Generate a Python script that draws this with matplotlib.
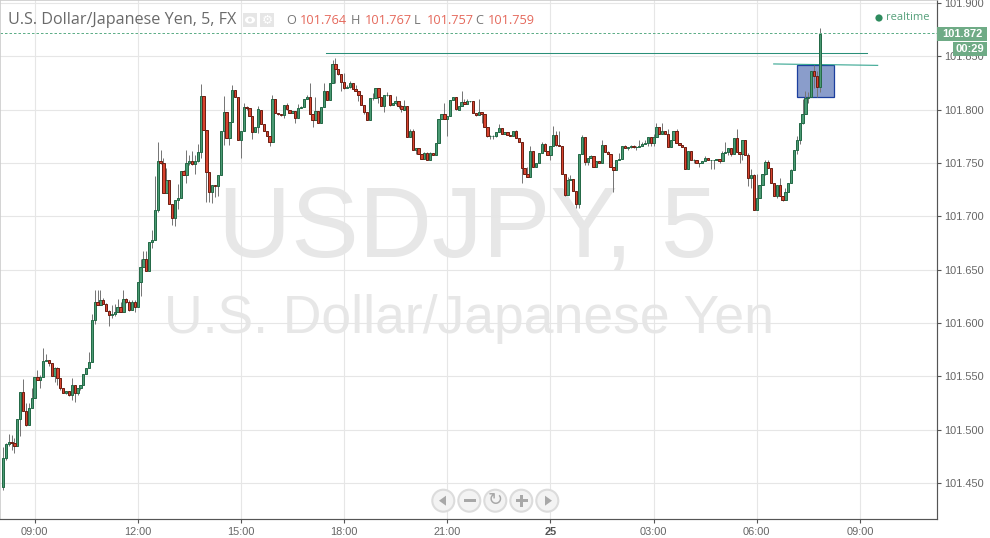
import numpy as np
import matplotlib
matplotlib.use('Agg')
import matplotlib.pyplot as plt
from matplotlib.patches import Rectangle, Circle, Polygon, Ellipse

# USDJPY 5 minute candles
opens = [
101.446,101.473,101.486,101.488,101.487,101.485,101.510,101.535,101.517,101.504,
101.520,101.530,101.549,101.546,101.549,101.564,101.565,101.562,101.550,101.558,
101.548,101.539,101.534,101.536,101.532,101.542,101.534,101.539,101.542,101.552,
101.558,101.563,101.603,101.620,101.617,101.621,101.618,101.611,101.607,101.608,
101.610,101.615,101.610,101.622,101.620,101.612,101.620,101.615,101.638,101.652,
101.660,101.649,101.676,101.678,101.706,101.752,101.750,101.722,101.734,101.711,
101.698,101.715,101.717,101.742,101.739,101.750,101.752,101.749,101.752,101.760,
101.813,101.781,101.741,101.723,101.729,101.728,101.739,101.780,101.798,101.773,
101.788,101.818,101.812,101.771,101.780,101.802,101.801,101.794,101.779,101.784,
101.800,101.786,101.780,101.775,101.770,101.810,101.797,101.796,101.795,101.804,
101.800,101.797,101.799,101.792,101.801,101.802,101.810,101.812,101.796,101.790,
101.799,101.787,101.802,101.817,101.809,101.825,101.843,101.838,101.833,101.826,
101.820,101.821,101.825,101.819,101.817,101.814,101.804,101.798,101.790,101.811,
101.811,101.820,101.812,101.803,101.814,101.814,101.804,101.806,101.808,101.803,
101.800,101.803,101.774,101.780,101.762,101.764,101.758,101.754,101.759,101.753,
101.759,101.757,101.769,101.791,101.796,101.791,101.794,101.809,101.812,101.800,
101.803,101.807,101.805,101.808,101.808,101.797,101.795,101.798,101.796,101.784,
101.775,101.775,101.775,101.779,101.783,101.777,101.779,101.776,101.775,101.780,
101.773,101.770,101.745,101.740,101.737,101.761,101.746,101.750,101.759,101.768,
101.761,101.757,101.766,101.776,101.767,101.766,101.740,101.720,101.734,101.735,
101.724,101.711,101.758,101.774,101.751,101.755,101.756,101.746,101.752,101.750,
101.767,101.760,101.758,101.746,101.743,101.753,101.754,101.766,101.764,101.765,
101.766,101.765,101.765,101.766,101.768,101.769,101.774,101.769,101.774,101.784,
101.777,101.780,101.777,101.765,101.771,101.780,101.769,101.767,101.765,101.744,
101.761,101.753,101.753,101.750,101.750,101.752,101.755,101.753,101.753,101.753,
101.754,101.752,101.759,101.760,101.764,101.758,101.773,101.760,101.758,101.771,
101.757,101.736,101.739,101.706,101.717,101.729,101.740,101.751,101.745,101.731,
101.719,101.729,101.719,101.715,101.723,101.731,101.743,101.762,101.771,101.787,
101.796,101.811,101.812,101.836,101.831,101.821]
closes = [
101.473,101.486,101.488,101.487,101.485,101.510,101.535,101.517,101.504,101.520,
101.530,101.549,101.546,101.549,101.564,101.565,101.562,101.550,101.558,101.548,
101.539,101.534,101.536,101.532,101.542,101.534,101.539,101.542,101.552,101.558,
101.563,101.603,101.620,101.617,101.621,101.618,101.611,101.607,101.608,101.610,
101.615,101.610,101.622,101.620,101.612,101.620,101.615,101.638,101.652,101.660,
101.649,101.676,101.678,101.706,101.752,101.750,101.722,101.734,101.711,101.698,
101.715,101.717,101.742,101.739,101.750,101.752,101.749,101.752,101.760,101.813,
101.781,101.741,101.723,101.729,101.728,101.739,101.780,101.798,101.773,101.788,
101.818,101.812,101.771,101.780,101.802,101.801,101.794,101.779,101.784,101.800,
101.786,101.780,101.775,101.770,101.810,101.797,101.796,101.795,101.804,101.800,
101.797,101.799,101.792,101.801,101.802,101.810,101.812,101.796,101.790,101.799,
101.787,101.802,101.817,101.809,101.825,101.843,101.838,101.833,101.826,101.820,
101.821,101.825,101.819,101.817,101.814,101.804,101.798,101.790,101.811,101.811,
101.820,101.812,101.803,101.814,101.814,101.804,101.806,101.808,101.803,101.800,
101.803,101.774,101.780,101.762,101.764,101.758,101.754,101.759,101.753,101.759,
101.757,101.769,101.791,101.796,101.791,101.794,101.809,101.812,101.800,101.803,
101.807,101.805,101.808,101.808,101.797,101.795,101.798,101.796,101.784,101.775,
101.775,101.775,101.779,101.783,101.777,101.779,101.776,101.775,101.780,101.773,
101.770,101.745,101.740,101.737,101.761,101.746,101.750,101.759,101.768,101.761,
101.757,101.766,101.776,101.767,101.766,101.740,101.720,101.734,101.735,101.724,
101.711,101.758,101.774,101.751,101.755,101.756,101.746,101.752,101.750,101.767,
101.760,101.758,101.746,101.743,101.753,101.754,101.766,101.764,101.765,101.766,
101.765,101.765,101.766,101.768,101.769,101.774,101.769,101.774,101.784,101.777,
101.780,101.777,101.765,101.771,101.780,101.769,101.767,101.765,101.744,101.761,
101.753,101.753,101.750,101.750,101.752,101.755,101.753,101.753,101.753,101.754,
101.752,101.759,101.760,101.764,101.758,101.773,101.760,101.758,101.771,101.757,
101.736,101.739,101.706,101.717,101.729,101.740,101.751,101.745,101.731,101.719,
101.729,101.719,101.715,101.723,101.731,101.743,101.762,101.771,101.787,101.796,
101.811,101.812,101.836,101.831,101.821,101.871]
highs = [
101.484,101.487,101.496,101.495,101.492,101.510,101.535,101.547,101.525,101.525,
101.539,101.549,101.556,101.551,101.576,101.571,101.565,101.562,101.559,101.559,
101.548,101.539,101.536,101.536,101.548,101.542,101.539,101.542,101.552,101.558,
101.573,101.608,101.631,101.631,101.631,101.623,101.619,101.612,101.617,101.618,
101.622,101.620,101.631,101.623,101.621,101.621,101.621,101.638,101.660,101.667,
101.667,101.676,101.687,101.738,101.770,101.762,101.755,101.745,101.734,101.711,
101.715,101.730,101.742,101.743,101.762,101.757,101.761,101.757,101.768,101.824,
101.813,101.781,101.741,101.729,101.729,101.739,101.780,101.813,101.798,101.788,
101.823,101.818,101.812,101.780,101.806,101.803,101.801,101.794,101.784,101.803,
101.800,101.786,101.780,101.775,101.814,101.810,101.797,101.796,101.804,101.806,
101.800,101.799,101.799,101.805,101.803,101.810,101.814,101.825,101.796,101.812,
101.799,101.802,101.825,101.817,101.825,101.846,101.848,101.838,101.833,101.834,
101.823,101.827,101.825,101.823,101.817,101.814,101.804,101.798,101.811,101.815,
101.820,101.820,101.812,101.814,101.816,101.814,101.806,101.813,101.808,101.804,
101.809,101.803,101.782,101.782,101.764,101.764,101.758,101.760,101.760,101.760,
101.759,101.769,101.791,101.796,101.806,101.794,101.809,101.812,101.812,101.803,
101.817,101.810,101.810,101.808,101.808,101.797,101.810,101.798,101.796,101.784,
101.776,101.776,101.779,101.786,101.783,101.779,101.779,101.776,101.780,101.781,
101.773,101.770,101.745,101.746,101.766,101.761,101.750,101.759,101.770,101.769,
101.761,101.766,101.785,101.780,101.780,101.766,101.740,101.737,101.739,101.735,
101.724,101.758,101.776,101.774,101.755,101.757,101.756,101.752,101.752,101.771,
101.767,101.761,101.758,101.746,101.753,101.759,101.766,101.767,101.765,101.767,
101.767,101.766,101.771,101.770,101.771,101.774,101.774,101.777,101.787,101.784,
101.787,101.780,101.782,101.771,101.780,101.782,101.769,101.767,101.765,101.761,
101.761,101.754,101.753,101.750,101.752,101.756,101.755,101.753,101.753,101.754,
101.754,101.761,101.770,101.764,101.764,101.773,101.782,101.760,101.771,101.771,
101.759,101.744,101.740,101.740,101.729,101.740,101.753,101.753,101.745,101.731,
101.729,101.736,101.719,101.726,101.731,101.744,101.762,101.775,101.787,101.810,
101.817,101.816,101.836,101.842,101.836,101.876]
lows = [
101.443,101.471,101.485,101.481,101.478,101.485,101.494,101.517,101.503,101.504,
101.520,101.530,101.546,101.539,101.549,101.564,101.560,101.550,101.545,101.542,
101.537,101.534,101.533,101.531,101.528,101.526,101.532,101.537,101.542,101.552,
101.558,101.563,101.599,101.617,101.617,101.618,101.611,101.597,101.605,101.606,
101.610,101.610,101.610,101.619,101.611,101.612,101.610,101.615,101.625,101.652,
101.649,101.649,101.670,101.678,101.704,101.749,101.722,101.722,101.711,101.692,
101.691,101.707,101.717,101.739,101.731,101.748,101.748,101.740,101.751,101.755,
101.781,101.713,101.713,101.712,101.718,101.719,101.739,101.767,101.773,101.767,
101.788,101.812,101.771,101.755,101.780,101.800,101.794,101.772,101.779,101.778,
101.786,101.780,101.775,101.766,101.770,101.797,101.795,101.794,101.792,101.800,
101.797,101.797,101.787,101.792,101.801,101.802,101.810,101.796,101.784,101.790,
101.787,101.787,101.802,101.809,101.809,101.825,101.825,101.832,101.817,101.819,
101.820,101.820,101.819,101.817,101.808,101.804,101.796,101.790,101.790,101.809,
101.811,101.806,101.803,101.798,101.813,101.803,101.804,101.804,101.801,101.798,
101.800,101.774,101.774,101.762,101.758,101.758,101.754,101.754,101.753,101.753,
101.757,101.757,101.769,101.791,101.791,101.775,101.794,101.809,101.800,101.800,
101.803,101.805,101.805,101.807,101.797,101.794,101.795,101.787,101.784,101.774,
101.772,101.772,101.774,101.779,101.777,101.777,101.776,101.775,101.775,101.773,
101.770,101.731,101.740,101.737,101.737,101.746,101.746,101.750,101.759,101.761,
101.757,101.753,101.766,101.766,101.766,101.740,101.719,101.720,101.734,101.724,
101.708,101.708,101.758,101.748,101.748,101.755,101.746,101.746,101.750,101.750,
101.760,101.758,101.746,101.723,101.743,101.753,101.754,101.764,101.762,101.764,
101.764,101.762,101.765,101.766,101.768,101.766,101.766,101.766,101.774,101.777,
101.777,101.777,101.765,101.765,101.771,101.769,101.767,101.765,101.744,101.744,
101.753,101.750,101.750,101.746,101.750,101.752,101.753,101.744,101.744,101.753,
101.750,101.752,101.759,101.757,101.756,101.758,101.760,101.750,101.753,101.757,
101.728,101.726,101.706,101.706,101.717,101.729,101.739,101.745,101.731,101.719,
101.717,101.719,101.714,101.715,101.723,101.731,101.743,101.758,101.768,101.786,
101.796,101.806,101.812,101.820,101.812,101.816]

y_ticks = [101.45, 101.5, 101.55, 101.6, 101.65, 101.7, 101.75, 101.8, 101.85, 101.9]
x_tick_bars = [11, 47, 83, 119, 155, 191, 227, 263, 299]
x_tick_labels = ['09:00', '12:00', '15:00', '18:00', '21:00', '25', '03:00', '06:00', '09:00']
last_price = 101.872

# drawn objects on the chart
line_upper = ([112.6, 301.4], [101.8525, 101.8525])
line_lower = ([268.9, 305.2], [101.8427, 101.8414])
box_bars = (277.1, 290.0)
box_prices = (101.812, 101.8417)

GREEN = '#4a9a73'
GREEN_EDGE = '#256a48'
RED = '#d8432f'
RED_EDGE = '#6e2014'
GREY = '#666666'

plt.rcParams['font.family'] = ['Liberation Sans', 'DejaVu Sans']

fig = plt.figure(figsize=(9.9, 5.38), dpi=100)
ax = fig.add_axes([0, 19 / 538, 937 / 990, 519 / 538])
ax.set_xlim(-3 / 2.866, (937 - 3) / 2.866)
ax.set_ylim(101.8 - 409.5 / 1066.67, 101.8 + 109.5 / 1066.67)

# overlay in plain pixels for the terminal decorations
pix = fig.add_axes([0, 0, 1, 1], zorder=5)
pix.set_xlim(0, 990)
pix.set_ylim(538, 0)
pix.axis('off')

ax.set_axisbelow(True)
ax.grid(True, color='#e6e6e6', linewidth=0.8)
ax.set_yticks(y_ticks)
ax.set_yticklabels(['%.3f' % t for t in y_ticks])
ax.set_xticks(x_tick_bars)
ax.set_xticklabels(x_tick_labels)
ax.yaxis.tick_right()
ax.tick_params(axis='y', length=3, width=0.8, color='#555555', labelcolor=GREY, labelsize=7.9, pad=2)
ax.tick_params(axis='x', length=3, width=0.8, color='#555555', labelcolor=GREY, labelsize=7.9, pad=3)
for lab in ax.get_xticklabels():
    if lab.get_text() == '25':
        lab.set_fontweight('bold')
        lab.set_color('#555555')
for side in ['top', 'left']:
    ax.spines[side].set_color('#cccccc')
    ax.spines[side].set_linewidth(1.2)
for side in ['right', 'bottom']:
    ax.spines[side].set_color('#555555')
    ax.spines[side].set_linewidth(0.85)

# watermark
ax.text(468, 231, 'USDJPY, 5', transform=pix.transData, ha='center', va='center',
        fontsize=73, color='#e7e7e7', zorder=0.5)
ax.text(469, 319, 'U.S. Dollar/Japanese Yen', transform=pix.transData, ha='center', va='center',
        fontsize=38.5, color='#e7e7e7', zorder=0.5)

# drawn rectangle and trend lines
ax.add_patch(Rectangle((box_bars[0], box_prices[0]), box_bars[1] - box_bars[0],
                       box_prices[1] - box_prices[0], facecolor='#8a9dcb',
                       edgecolor='#1c3f9e', linewidth=0.9, zorder=1.5))
ax.plot(line_upper[0], line_upper[1], color='#2a8f78', linewidth=0.75, zorder=1.6)
ax.plot(line_lower[0], line_lower[1], color='#2aa08a', linewidth=0.75, zorder=1.6)

# candles
x = np.arange(len(closes))
o = np.array(opens)
c = np.array(closes)
up = c >= o
ax.vlines(x, lows, highs, color='#777777', linewidth=0.72, zorder=2)
ax.bar(x[up], (c - o)[up], bottom=o[up], width=0.8, color=GREEN, edgecolor=GREEN_EDGE,
       linewidth=0.72, zorder=3)
ax.bar(x[~up], (c - o)[~up], bottom=o[~up], width=0.8, color=RED, edgecolor=RED_EDGE,
       linewidth=0.72, zorder=3)

# last price line
ax.axhline(last_price, color='#5fae88', linewidth=0.72, linestyle=(0, (2.5, 2)), zorder=2.5)

# header
pix.text(8, 19.5, 'U.S. Dollar/Japanese Yen, 5, FX', family='Open Sans', fontsize=11.6,
         color='#6a6a6a', va='center')
for bx in [243, 260]:
    pix.add_patch(Rectangle((bx, 13), 14, 14, facecolor='#e6e6e6', edgecolor='none'))
pix.add_patch(Ellipse((250, 20), 10, 7, facecolor='white', edgecolor='none'))
pix.add_patch(Circle((250, 20), 2, facecolor='#e6e6e6', edgecolor='none'))
pix.text(267, 20, '\u2699', color='white', fontsize=9, ha='center', va='center', family='DejaVu Sans')
ohlc = [('O', 286, '101.764', 300), ('H', 351, '101.767', 365), ('L', 414, '101.757', 427),
        ('C', 475, '101.759', 488)]
for name, nx, val, vx in ohlc:
    pix.text(nx, 21, name, fontsize=9.2, color='#777777', va='center', family='Open Sans')
    pix.text(vx, 21, val, fontsize=9.2, color='#e5695c', va='center', family='Open Sans')

# realtime flag
pix.add_patch(Circle((879, 18), 3.6, facecolor='#2e8b5e', edgecolor='none'))
pix.text(886, 18, 'realtime', fontsize=8.0, color='#55a07a', va='center', family='Open Sans')

# last price and countdown labels
pix.add_patch(Rectangle((937, 27), 50, 14, facecolor='#6fab86', edgecolor='none'))
pix.text(962.5, 34, '101.872', color='white', fontsize=8.0, fontweight='bold', ha='center', va='center')
pix.add_patch(Rectangle((953, 42), 34, 14, facecolor='#6fab86', edgecolor='none'))
pix.text(970, 49, '00:29', color='white', fontsize=8.0, fontweight='bold', ha='center', va='center')

# navigation buttons
btn_x = [443.3, 469.3, 495.3, 521.3, 547.3]
btn_y = 500.7
for bx in btn_x:
    pix.add_patch(Circle((bx, btn_y), 11, facecolor='#f3f3f3', edgecolor='#dcdcdc', linewidth=1.5))
SYM = '#a8a8a8'
pix.add_patch(Polygon([(439, btn_y), (446, btn_y - 5), (446, btn_y + 5)], facecolor=SYM, edgecolor='none'))
pix.add_patch(Rectangle((463.5, btn_y - 1.5), 12, 3, facecolor=SYM, edgecolor='none'))
pix.text(495.3, btn_y - 0.5, '\u21bb', color=SYM, fontsize=13, ha='center', va='center', family='DejaVu Sans')
pix.add_patch(Rectangle((515.5, btn_y - 1.5), 12, 3, facecolor=SYM, edgecolor='none'))
pix.add_patch(Rectangle((520, btn_y - 6), 3, 12, facecolor=SYM, edgecolor='none'))
pix.add_patch(Polygon([(552, btn_y), (545, btn_y - 5), (545, btn_y + 5)], facecolor=SYM, edgecolor='none'))

fig.savefig('out.png', dpi=100)
